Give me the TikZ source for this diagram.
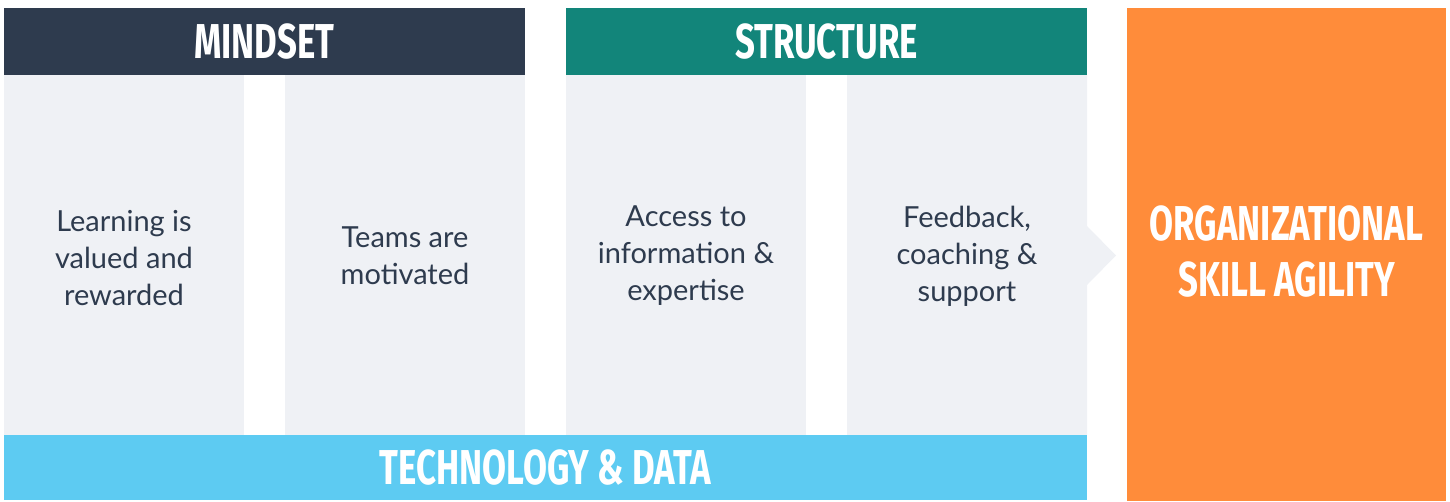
\documentclass[tikz,border=0pt]{standalone}
\usepackage{fontspec}
\setmainfont{Lato}
\newfontfamily\headfont{Fira Sans}[FakeStretch=0.71]
\definecolor{navy}{HTML}{2E3B4E}
\definecolor{teal}{HTML}{12857A}
\definecolor{panel}{HTML}{EFF1F5}
\definecolor{sky}{HTML}{5DCBF2}
\definecolor{orangeA}{HTML}{FF8C3A}
\begin{document}
\begin{tikzpicture}[x=1pt,y=-1pt,
  header/.style={font=\headfont\bfseries\fontsize{49}{55}\selectfont, text=white, align=center},
  body/.style={font=\fontsize{29}{37}\selectfont, text=navy, align=center},
]
\useasboundingbox (0,0) rectangle (1450,501);
% header bars
\fill[navy] (4,8) rectangle (525,75);
\fill[teal] (566,8) rectangle (1087,75);
% columns
\fill[panel] (4,75) rectangle (244,435);
\fill[panel] (285,75) rectangle (525,435);
\fill[panel] (566,75) rectangle (806,435);
\fill[panel] (847,75) -- (1087,75) -- (1087,226) -- (1116,255.5) -- (1087,285) -- (1087,435) -- (847,435) -- cycle;
% foundation bar and outcome box
\fill[sky] (4,435) rectangle (1087,500);
\fill[orangeA] (1127,8) rectangle (1446,501);
% texts
\node[header] (mindset) at (264.5,42) {MINDSET};
\node[header] (structure) at (826.5,42) {STRUCTURE};
\node[header] (tech) at (545.5,468) {TECHNOLOGY \& DATA};
\node[header, font=\headfont\bfseries\fontsize{49}{56}\selectfont] (agility) at (1286.5,252) {ORGANIZATIONAL\\SKILL AGILITY};
\node[body] (c1) at (124,258) {Learning is\\valued and\\rewarded};
\node[body] (c2) at (405,256) {Teams are\\motivated};
\node[body] (c3) at (686,256) {Access to\\information \&\\expertise};
\node[body] (c4) at (967,256) {Feedback,\\coaching \&\\support};
\end{tikzpicture}
\end{document}
